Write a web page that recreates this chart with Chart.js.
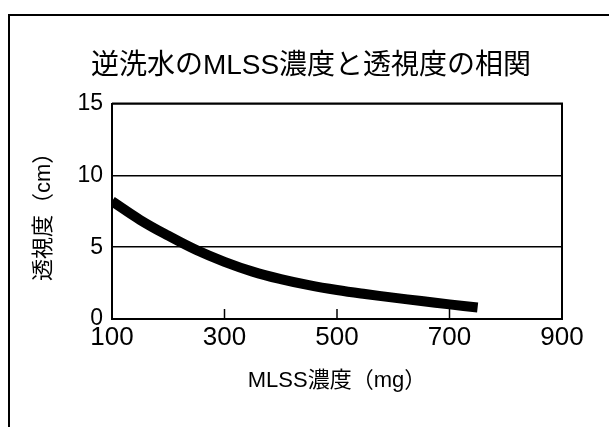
<!DOCTYPE html>
<html>
<head>
<meta charset="utf-8">
<script src="https://cdn.jsdelivr.net/npm/chart.js@4"></script>
<style>
  html, body { margin: 0; padding: 0; background: #fff; }
  #wrap { position: relative; width: 609px; height: 427px; }
  #frame { position: absolute; left: 8px; top: 14px; right: 0; bottom: 0; border-left: 2px solid #000; border-top: 2px solid #000; }
  #chart { position: absolute; left: 0; top: 0; }
</style>
</head>
<body>
<div id="wrap">
  <div id="frame"></div>
  <canvas id="chart" width="609" height="427"></canvas>
</div>
<script>
// MLSS濃度 (mg) と 透視度 (cm)
const mlss = [100, 150, 200, 250, 300, 350, 400, 450, 500, 550, 600, 650, 700, 750];
const clarity = [8.2, 6.9, 5.8, 4.8, 3.98, 3.3, 2.78, 2.36, 2.02, 1.74, 1.49, 1.25, 1.02, 0.8];

const xTicks = [100, 300, 500, 700, 900];
const yTicks = [0, 5, 10, 15];

const titleText = '逆洗水のMLSS濃度と透視度の相関';
const xTitle = 'MLSS濃度（mg）';
const yTitle = '透視度（cm）';

const sans = "'Liberation Sans', 'Noto Sans CJK JP', sans-serif";

// top + right edge of the plot box, and the short inner ticks on the x axis
const plotFrame = {
  id: 'plotFrame',
  afterDatasetsDraw(chart) {
    const { ctx, chartArea: a, scales: { x } } = chart;
    ctx.save();
    ctx.strokeStyle = '#000';
    ctx.lineWidth = 2;
    ctx.beginPath();
    ctx.moveTo(a.left, a.top);
    ctx.lineTo(a.right, a.top);
    ctx.lineTo(a.right, a.bottom);
    ctx.stroke();
    ctx.lineWidth = 1.5;
    x.ticks.forEach(t => {
      if (t.value === x.min || t.value === x.max) return;
      const px = x.getPixelForValue(t.value);
      ctx.beginPath();
      ctx.moveTo(px, a.bottom);
      ctx.lineTo(px, a.bottom - 10);
      ctx.stroke();
    });
    ctx.restore();
  }
};

new Chart(document.getElementById('chart').getContext('2d'), {
  type: 'line',
  data: {
    datasets: [{
      data: mlss.map((m, i) => ({ x: m, y: clarity[i] })),
      borderColor: '#000',
      borderWidth: 10,
      borderCapStyle: 'butt',
      pointRadius: 0,
      tension: 0.4,
      fill: false
    }]
  },
  options: {
    responsive: false,
    animation: false,
    layout: { padding: { left: 25, right: 12, top: 0, bottom: 0 } },
    plugins: {
      legend: { display: false },
      tooltip: { enabled: false },
      title: {
        display: true,
        text: titleText,
        color: '#000',
        font: { family: sans, size: 28, weight: 'normal' },
        padding: { top: 49, bottom: 21 }
      }
    },
    scales: {
      x: {
        type: 'linear',
        min: 100,
        max: 900,
        afterBuildTicks: s => { s.ticks = xTicks.map(v => ({ value: v })); },
        afterFit: s => { s.height = 108; },
        grid: { display: false, drawTicks: false },
        border: { display: true, color: '#000', width: 2 },
        ticks: { color: '#000', padding: 3, maxRotation: 0, font: { family: sans, size: 26 } },
        title: {
          display: true,
          text: xTitle,
          color: '#000',
          font: { family: sans, size: 22 },
          padding: { top: 0, bottom: 33 }
        }
      },
      y: {
        type: 'linear',
        min: 0,
        max: 15,
        afterBuildTicks: s => { s.ticks = yTicks.map(v => ({ value: v })); },
        afterFit: s => { s.width = 87; },
        grid: { color: '#000', lineWidth: 1.5, drawTicks: false },
        border: { display: true, color: '#000', width: 2 },
        ticks: { color: '#000', padding: 9, font: { family: sans, size: 23 } },
        title: {
          display: true,
          text: yTitle,
          color: '#000',
          font: { family: sans, size: 22 },
          padding: { top: 6, bottom: 0 }
        }
      },
      y2: {
        type: 'linear',
        position: 'right',
        min: 0,
        max: 15,
        afterFit: s => { s.width = 35; },
        grid: { display: false },
        border: { display: false },
        ticks: { display: false }
      }
    }
  },
  plugins: [plotFrame]
});
</script>
</body>
</html>
